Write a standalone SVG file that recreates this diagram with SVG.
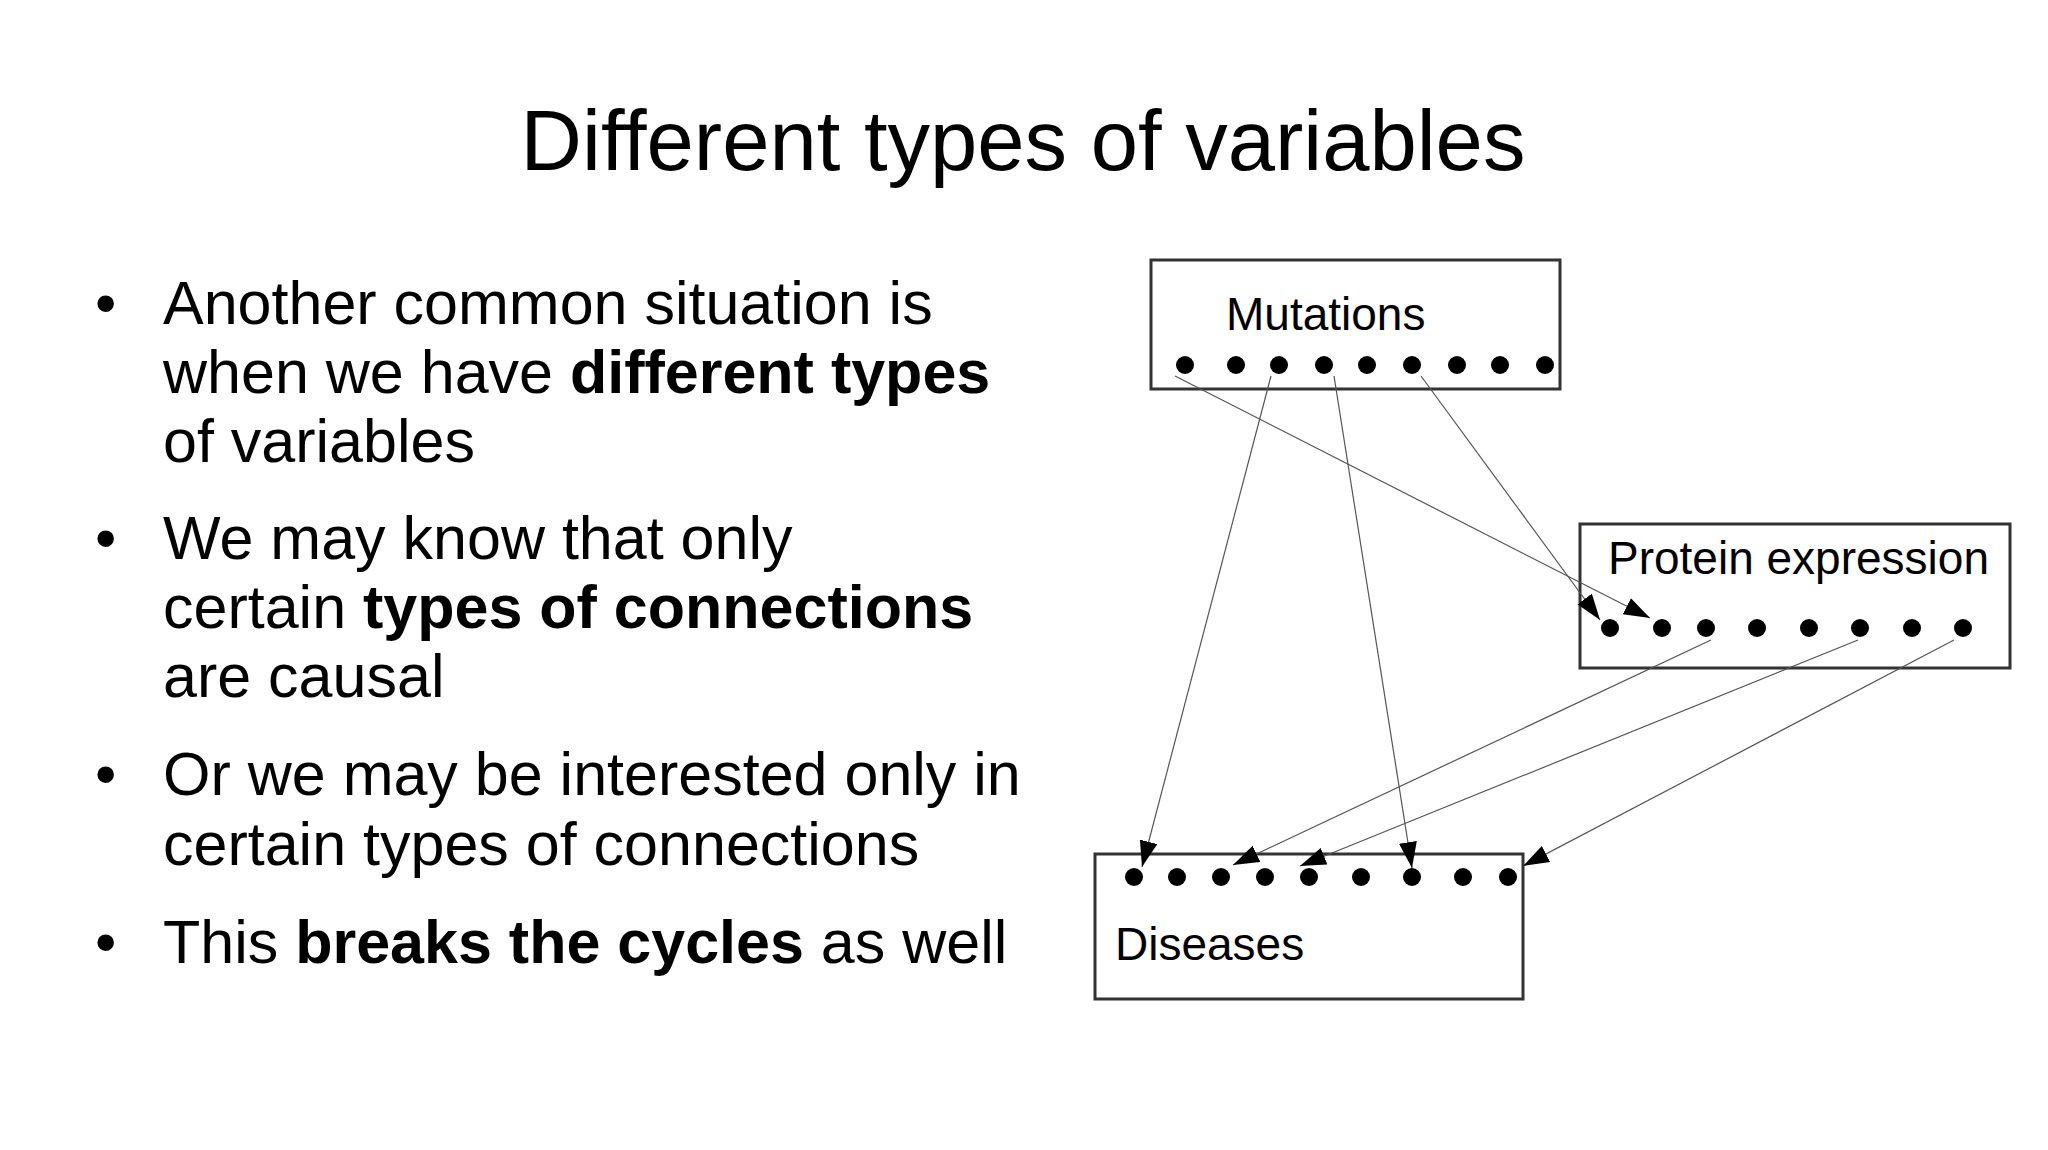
<svg xmlns="http://www.w3.org/2000/svg" width="2048" height="1150" viewBox="0 0 2048 1150">
<style>
text{font-family:"Liberation Sans",Arial,sans-serif;fill:#000}
.t{font-size:61px}
.b{font-weight:bold}
.lbl{font-size:46px}
.box{fill:none;stroke:#333;stroke-width:3}
.c{stroke:#555;stroke-width:1.2;fill:none;marker-end:url(#ah)}
</style>
<defs>
<marker id="ah" markerUnits="userSpaceOnUse" markerWidth="28" markerHeight="20" refX="26" refY="9" orient="auto">
<path d="M0,0 L26,9 L0,18 Z" fill="#000"/>
</marker>
<circle id="d" r="9" fill="#000"/>
</defs>
<rect width="2048" height="1150" fill="#fff"/>
<text x="1023" y="170" font-size="85" text-anchor="middle">Different types of variables</text>
<g id="bullets" class="t">
<text class="t" x="95" y="324">•</text>
<text class="t" x="163" y="324">Another common situation is</text>
<text class="t" x="163" y="393">when we have <tspan class="b">different types</tspan></text>
<text class="t" x="163" y="462">of variables</text>
<text class="t" x="95" y="559">•</text>
<text class="t" x="163" y="559">We may know that only</text>
<text class="t" x="163" y="628">certain <tspan class="b">types of connections</tspan></text>
<text class="t" x="163" y="697">are causal</text>
<text class="t" x="95" y="795">•</text>
<text class="t" x="163" y="795">Or we may be interested only in</text>
<text class="t" x="163" y="865">certain types of connections</text>
<text class="t" x="95" y="963">•</text>
<text class="t" x="163" y="963">This <tspan class="b">breaks the cycles</tspan> as well</text>
</g>
<g id="mutations">
<rect class="box" x="1151" y="260" width="409" height="129"/>
<text class="lbl" x="1226" y="330">Mutations</text>
<use href="#d" x="1185" y="365"/><use href="#d" x="1236" y="365"/><use href="#d" x="1279" y="365"/><use href="#d" x="1324" y="365"/><use href="#d" x="1367" y="365"/><use href="#d" x="1412" y="365"/><use href="#d" x="1457" y="365"/><use href="#d" x="1500" y="365"/><use href="#d" x="1545" y="365"/>
</g>
<g id="protein">
<rect class="box" x="1580" y="524" width="430" height="144"/>
<text class="lbl" x="1608" y="574">Protein expression</text>
<use href="#d" x="1610" y="628"/><use href="#d" x="1662" y="628"/><use href="#d" x="1706" y="628"/><use href="#d" x="1757" y="628"/><use href="#d" x="1809" y="628"/><use href="#d" x="1860" y="628"/><use href="#d" x="1912" y="628"/><use href="#d" x="1963" y="628"/>
</g>
<g id="diseases">
<rect class="box" x="1095" y="854" width="428" height="145"/>
<text class="lbl" x="1115" y="960">Diseases</text>
<use href="#d" x="1134" y="877"/><use href="#d" x="1177" y="877"/><use href="#d" x="1221" y="877"/><use href="#d" x="1265" y="877"/><use href="#d" x="1309" y="877"/><use href="#d" x="1361" y="877"/><use href="#d" x="1412" y="877"/><use href="#d" x="1463" y="877"/><use href="#d" x="1508" y="877"/>
</g>
<g id="connectors">
<line class="c" x1="1175" y1="376" x2="1650" y2="618"/>
<line class="c" x1="1421" y1="376" x2="1600" y2="620"/>
<line class="c" x1="1271" y1="376" x2="1142" y2="867"/>
<line class="c" x1="1334" y1="376" x2="1412" y2="868"/>
<line class="c" x1="1711" y1="640" x2="1233" y2="865"/>
<line class="c" x1="1858" y1="640" x2="1300" y2="866"/>
<line class="c" x1="1954" y1="640" x2="1523" y2="866"/>
</g>
</svg>
